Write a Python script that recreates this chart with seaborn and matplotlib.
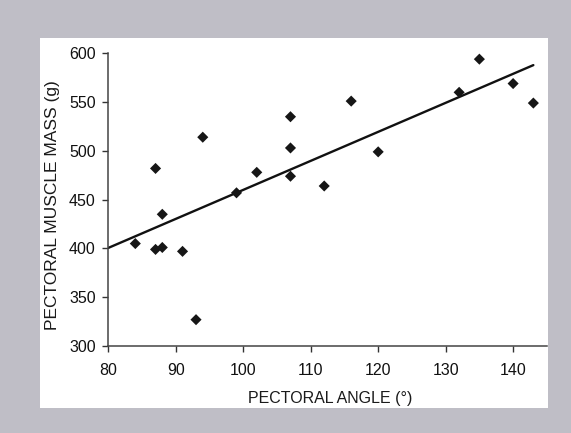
import numpy as np
import pandas as pd
import matplotlib
matplotlib.use("Agg")
import matplotlib.pyplot as plt
import seaborn as sns
from matplotlib.patches import Rectangle

# values
pectoral_angle = [84, 87, 87, 88, 88, 91, 93, 94, 99, 102,
                  107, 107, 107, 112, 116, 120, 132, 135, 140, 143]
muscle_mass = [405, 399, 482, 401, 435, 397, 327, 514, 457, 478,
               535, 503, 474, 464, 551, 499, 560, 594, 569, 549]

df = pd.DataFrame({"angle": pectoral_angle, "mass": muscle_mass})

sns.set_style("ticks")
plt.rcParams['font.family'] = ['Liberation Sans', 'DejaVu Sans']

fig = plt.figure(figsize=(5.71, 4.33), dpi=100)
fig.patch.set_facecolor('#bfbec6')
# white card behind the chart
fig.patches.append(Rectangle((0.070, 0.058), 0.889, 0.854, transform=fig.transFigure,
                             facecolor='white', edgecolor='none', zorder=-5))

ax = fig.add_axes([0.1897, 0.2009, 0.768, 0.676])
ax.set_facecolor('none')
ax.set_zorder(2)

sns.scatterplot(data=df, x="angle", y="mass", marker="D", s=32,
                color='#161616', edgecolor='none', ax=ax, zorder=3)

# least squares trend line, drawn from the axis start to the last point
slope, intercept = np.polyfit(df["angle"], df["mass"], 1)
xs = np.array([80, df["angle"].max()])
ax.plot(xs, slope * xs + intercept, color='#111111', lw=1.7, zorder=2)

ax.set_xlim(80, 145)
ax.set_ylim(300, 600)
ax.set_xticks([80, 90, 100, 110, 120, 130, 140])
ax.set_yticks([300, 350, 400, 450, 500, 550, 600])
ax.set_xlabel("PECTORAL ANGLE (°)", fontsize=11.5, color='#1a1a1a', va='center')
ax.set_ylabel("PECTORAL MUSCLE MASS (g)", fontsize=12.5, color='#1a1a1a', va='center')
ax.xaxis.set_label_coords(0.505, -0.178)
ax.yaxis.set_label_coords(-0.128, 0.48)
ax.tick_params(labelsize=11.5, length=4, width=1, colors='#333333', labelcolor='#111111')
ax.tick_params(axis='x', pad=8)
ax.tick_params(axis='y', pad=5)
sns.despine(ax=ax)
for sp in ["left", "bottom"]:
    ax.spines[sp].set_color('#444444')
    ax.spines[sp].set_linewidth(1.1)

fig.savefig("out.png", dpi=100, facecolor=fig.get_facecolor())
